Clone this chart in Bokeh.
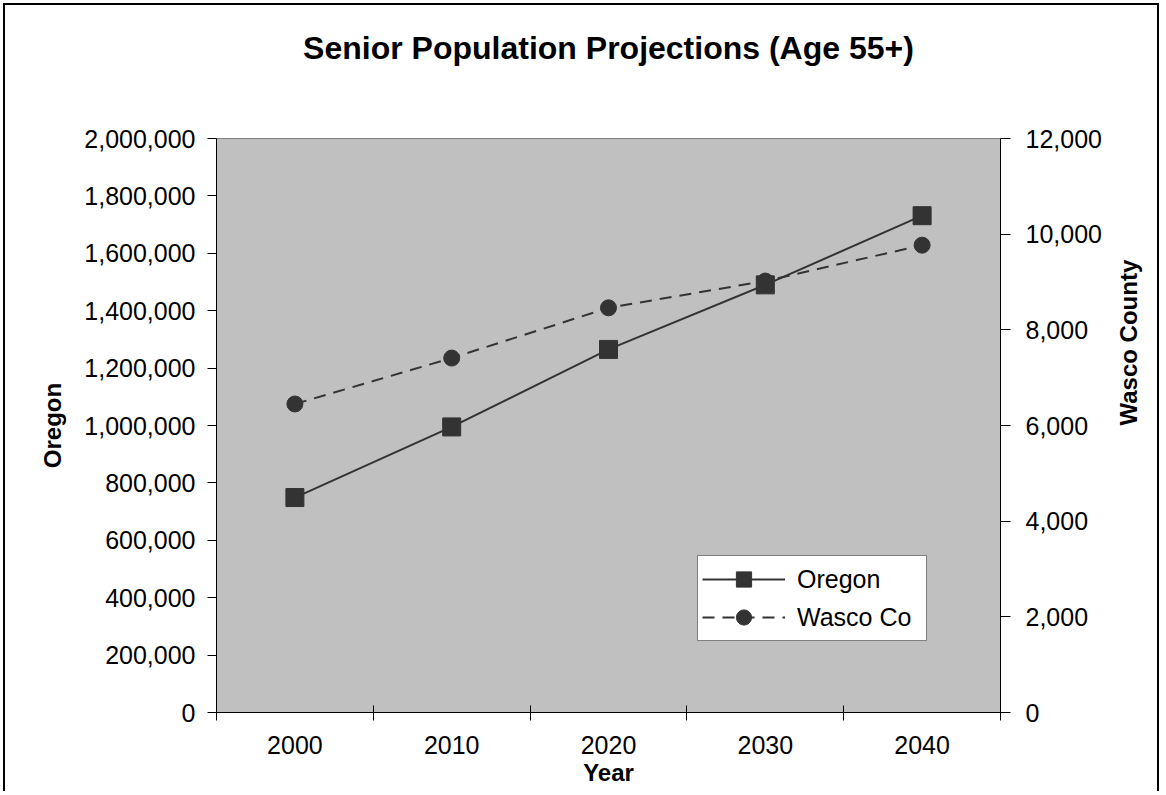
import math
from bokeh.plotting import figure
from bokeh.models import (Range1d, LinearAxis, FixedTicker, NumeralTickFormatter,
                          Legend, LegendItem, ColumnDataSource)
from bokeh.embed import file_html
from bokeh.resources import INLINE

# ---- data ----
years = ["2000", "2010", "2020", "2030", "2040"]
oregon = [749000, 995000, 1265000, 1490000, 1731000]
wasco = [6450, 7410, 8460, 9020, 9770]
left_ticks = list(range(0, 2000001, 200000))
right_ticks = list(range(0, 12001, 2000))
title_text = "Senior Population Projections (Age 55+)"

FONT = "Liberation Sans"
INK = "#333333"

xpos = [i + 0.5 for i in range(len(years))]
src = ColumnDataSource(dict(x=xpos, year=years, oregon=oregon, wasco=wasco))

W, H = 1156, 788
FL, FR, FT, FB = 211, 161, 133, 81   # frame margins inside the canvas
p = figure(width=W, height=H, output_backend="svg", toolbar_location=None,
           x_range=Range1d(0, len(years)), y_range=Range1d(0, 2000000),
           min_border_left=FL, min_border_right=FR, min_border_top=FT,
           min_border_bottom=FB, x_axis_location=None, y_axis_location=None)
p.extra_y_ranges = {"wasco": Range1d(0, 12000)}
p.background_fill_color = "#C0C0C0"
p.border_fill_color = "white"
p.outline_line_color = "#808080"
p.outline_line_width = 1
p.grid.visible = False
p.title.text = ""
# outer chart border (bottom edge lies beyond the window, as in the reference)
p.styles = {"border": "2px solid black", "border-bottom": "none",
            "margin-left": "3px", "margin-top": "3px"}

# chart title, carried by a tick-less axis above the frame
tax = LinearAxis(ticker=FixedTicker(ticks=[]), axis_line_color=None,
                 major_tick_line_color=None, minor_tick_line_color=None,
                 major_tick_in=0, major_tick_out=0, minor_tick_in=0, minor_tick_out=0,
                 major_label_standoff=0, axis_label=title_text, axis_label_standoff=73,
                 axis_label_text_font="Liberation Sans", axis_label_text_font_size="32px",
                 axis_label_text_font_style="bold", axis_label_text_color="black")
p.add_layout(tax, "above")

def style_axis(ax):
    ax.axis_line_color = "black"
    ax.axis_line_width = 1
    ax.major_tick_line_color = "black"
    ax.minor_tick_line_color = "black"
    ax.major_label_text_font = FONT
    ax.major_label_text_font_size = "25px"
    ax.major_label_text_color = "black"
    ax.axis_label_text_font = FONT
    ax.axis_label_text_font_size = "24px"
    ax.axis_label_text_font_style = "bold"
    ax.axis_label_text_color = "black"

# x axis (category labels at centres, tick marks at boundaries)
xaxis = LinearAxis(ticker=FixedTicker(ticks=xpos, minor_ticks=list(range(len(years) + 1))),
                   major_label_overrides={x: y for x, y in zip(xpos, years)},
                   axis_label="Year")
style_axis(xaxis)
xaxis.major_tick_in = 0
xaxis.major_tick_out = 0
xaxis.minor_tick_in = 7
xaxis.minor_tick_out = 8
xaxis.major_label_standoff = 15
xaxis.axis_label_standoff = 2
p.add_layout(xaxis, "below")

# left axis
yl = LinearAxis(ticker=FixedTicker(ticks=left_ticks), formatter=NumeralTickFormatter(format="0,0"),
                axis_label="Oregon")
style_axis(yl)
yl.major_tick_in = 0
yl.major_tick_out = 9
yl.minor_tick_in = 0
yl.minor_tick_out = 0
yl.major_label_standoff = 12
yl.axis_label_standoff = 15
p.add_layout(yl, "left")

# right axis
yr = LinearAxis(y_range_name="wasco", ticker=FixedTicker(ticks=right_ticks),
                formatter=NumeralTickFormatter(format="0,0"), axis_label="Wasco County")
style_axis(yr)
yr.major_tick_in = 0
yr.major_tick_out = 10
yr.minor_tick_in = 0
yr.minor_tick_out = 0
yr.major_label_standoff = 15
yr.axis_label_standoff = 24
yr.axis_label_orientation = math.pi / 2
p.add_layout(yr, "right")

# series
l1 = p.line("x", "oregon", source=src, line_color=INK, line_width=2)
s1 = p.scatter("x", "oregon", source=src, marker="square", size=18,
               fill_color=INK, line_color=INK)
l2 = p.line("x", "wasco", source=src, y_range_name="wasco", line_color=INK,
            line_width=2, line_dash="12 8")
s2 = p.scatter("x", "wasco", source=src, y_range_name="wasco", marker="circle", size=16,
               fill_color=INK, line_color=INK)

legend = Legend(items=[LegendItem(label="Oregon", renderers=[l1, s1]),
                       LegendItem(label="Wasco Co", renderers=[l2, s2])],
                location=(481, 71))
legend.label_text_font = FONT
legend.label_text_font_size = "25px"
legend.label_text_color = "black"
legend.glyph_width = 83
legend.glyph_height = 38
legend.label_height = 38
legend.label_width = 125
legend.label_standoff = 12
legend.padding = 4
legend.spacing = 0
legend.margin = 0
legend.border_line_color = "black"
legend.border_line_width = 1
legend.background_fill_color = "white"
legend.background_fill_alpha = 1
p.add_layout(legend)

open("out.html", "w").write(file_html(p, INLINE))
